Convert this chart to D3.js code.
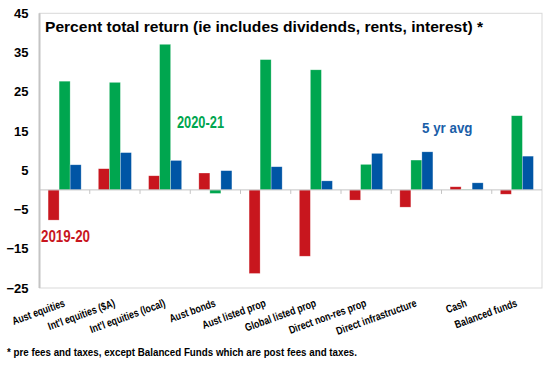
<!DOCTYPE html>
<html><head><meta charset="utf-8">
<script src="https://cdn.jsdelivr.net/npm/d3@7"></script>
<style>
html,body{margin:0;padding:0;background:#fff;}
svg text{font-family:"Liberation Sans",Arial,Helvetica,sans-serif;font-weight:bold;}
</style></head>
<body><svg id="c" width="548" height="366"></svg>
<script>
const categories = ["Aust equities","Int'l equities ($A)","Int'l equities (local)","Aust bonds","Aust listed prop","Global listed prop","Direct non-res prop","Direct infrastructure","Cash","Balanced funds"];
const seriesNames = ["2019-20","2020-21","5 yr avg"];
const fy2020 = [-7.7, 5.4, 3.6, 4.3, -21.3, -16.9, -2.6, -4.4, 0.8, -1.1];
const fy2021 = [27.7, 27.4, 37.1, -0.9, 33.2, 30.6, 6.5, 7.6, 0.1, 18.9];
const avg5yr = [6.4, 9.5, 7.5, 4.9, 5.9, 2.3, 9.3, 9.7, 1.8, 8.6];
const yTicks = [-25, -15, -5, 5, 15, 25, 35, 45];
const colors = ["#c8161e", "#00a64f", "#0055a5"];

const svg = d3.select("#c");
const L = 39.5, R = 542, T = 13.3, B = 288;
const x = d3.scaleBand().domain(categories).range([L, R]).padding(0);
const x1 = d3.scaleBand().domain(seriesNames).range([0, x.bandwidth()]).paddingInner(0).paddingOuter(0.78);
const y = d3.scaleLinear().domain([-25, 45]).range([B, T]);

function fit(sel, factor, target) {
  sel.each(function(){
    const n = this.getComputedTextLength();
    const w = target != null ? target : n * factor;
    this.setAttribute("textLength", w);
    this.setAttribute("lengthAdjust", "spacingAndGlyphs");
  });
  return sel;
}

// frame
svg.append("rect").attr("x", L).attr("y", T).attr("width", R - L).attr("height", B - T)
  .attr("fill", "none").attr("stroke", "#d9d9d9").attr("stroke-width", 1);
svg.append("line").attr("x1", L).attr("x2", L).attr("y1", T).attr("y2", B)
  .attr("stroke", "#c4c4c4").attr("stroke-width", 2);

// y axis labels
const ya = svg.append("g").attr("transform", `translate(${L},0)`)
  .call(d3.axisLeft(y).tickValues(yTicks).tickSize(0).tickPadding(11).tickFormat(d3.format("d")));
ya.select(".domain").remove();
ya.selectAll("text").attr("font-size", 13).attr("fill", "#000")
  .style("font-family", '"Liberation Sans",Arial,sans-serif').style("font-weight", "bold");

// bars
const rows = categories.map((c, i) => ({c, vals: [fy2020[i], fy2021[i], avg5yr[i]]}));
const g = svg.append("g");
rows.forEach(r => {
  r.vals.forEach((v, k) => {
    g.append("rect")
      .attr("x", x(r.c) + x1(seriesNames[k]))
      .attr("width", x1.bandwidth())
      .attr("y", y(Math.max(0, v)))
      .attr("height", Math.abs(y(v) - y(0)))
      .attr("fill", colors[k])
      .attr("stroke", "rgba(255,255,255,0.45)").attr("stroke-width", 0.6);
  });
});

// zero line and category ticks
const y0 = y(0);
svg.append("line").attr("x1", L).attr("x2", R).attr("y1", y0).attr("y2", y0)
  .attr("stroke", "#c4c4c4").attr("stroke-width", 1);
svg.selectAll(".ctick").data(categories.slice(1)).enter().append("line")
  .attr("x1", d => x(d)).attr("x2", d => x(d)).attr("y1", y0).attr("y2", y0 + 4)
  .attr("stroke", "#c4c4c4").attr("stroke-width", 1);

// x labels
svg.selectAll(".xl").data(categories).enter().append("text")
  .attr("transform", d => `translate(${x(d) + x.bandwidth() / 2 + 1},306) rotate(-20)`)
  .attr("text-anchor", "end").attr("font-size", 11).attr("fill", "#000")
  .text(d => d)
  .call(fit, 0.8);

// title
svg.append("text").attr("x", 45).attr("y", 32.3).attr("font-size", 14).attr("fill", "#000")
  .text("Percent total return (ie includes dividends, rents, interest) *")
  .call(fit, 1, 438);

// series annotations
svg.append("text").attr("x", 41).attr("y", 242).attr("font-size", 16).attr("fill", colors[0])
  .text(seriesNames[0]).call(fit, 1, 49);
svg.append("text").attr("x", 177).attr("y", 127.5).attr("font-size", 16).attr("fill", colors[1])
  .text(seriesNames[1]).call(fit, 1, 47);
svg.append("text").attr("x", 422).attr("y", 132.8).attr("font-size", 14).attr("fill", "#1a5ea8")
  .text(seriesNames[2]).call(fit, 1, 50.5);

// footnote
svg.append("text").attr("x", 7).attr("y", 356).attr("font-size", 11).attr("fill", "#000")
  .text("* pre fees and taxes, except Balanced Funds which are post fees and taxes.")
  .call(fit, 1, 350);
</script></body></html>
